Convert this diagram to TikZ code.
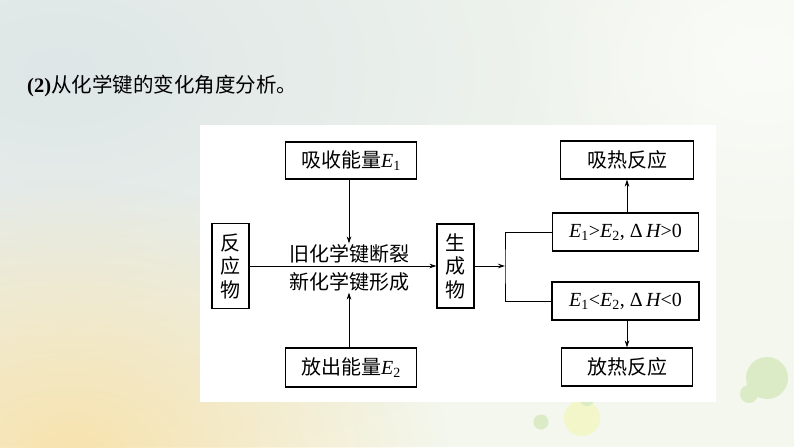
\documentclass[tikz,border=0pt]{standalone}
\usepackage{fontspec}
\setmainfont{Liberation Serif}
\newfontfamily\cjk{Noto Sans CJK SC}
\usetikzlibrary{arrows.meta,fadings}
\definecolor{bgbase}{RGB}{243,247,238}
\definecolor{tlgray}{RGB}{222,230,231}
\definecolor{blyellow}{RGB}{247,226,172}
\definecolor{dotgreen}{RGB}{218,235,198}
\definecolor{dotyellow}{RGB}{243,246,200}
\tikzfading[name=softblob, inner color=transparent!0, outer color=transparent!100]
\tikzset{
  box/.style={draw, line width=1.1pt, inner sep=0pt, align=center,
    font=\cjk\fontsize{20}{23.5}\selectfont},
  conn/.style={line width=0.8pt},
  arr/.style={conn, -{Stealth[length=7pt,width=4.5pt]}},
  lbl/.style={inner sep=1pt, font=\cjk\fontsize{20}{24}\selectfont},
  eqlbl/.style={font=\fontsize{20}{24}\selectfont},
}
\newcommand{\EE}[1]{{\itshape E}\textsubscript{#1}}
\begin{document}
\begin{tikzpicture}[x=1pt,y=-1pt]
\useasboundingbox (0,0) rectangle (794,447);
% background
\fill[bgbase] (0,0) rectangle (794,447);
\begin{scope}
\clip (0,0) rectangle (794,447);
\fill[tlgray, path fading=softblob] (60,70) ellipse [x radius=640pt, y radius=400pt];
\fill[blyellow, path fading=softblob] (70,460) ellipse [x radius=380pt, y radius=280pt];
\fill[white, path fading=softblob, opacity=0.6] (760,60) ellipse [x radius=260pt, y radius=200pt];
\end{scope}
\fill[dotgreen] (767,378) circle (21pt);
\fill[dotgreen] (749,394) circle (9pt);
\fill[dotyellow] (582,418) circle (18pt);
\fill[dotgreen] (541,422) circle (7.5pt);
\fill[dotgreen] (587,399) circle (7pt);
% panel
\fill[white] (200,125) rectangle (716,402);
% title
\node[anchor=west, inner sep=0pt, font=\fontsize{20.5}{24}\selectfont] (title) at (27,86)
  {\textbf{(2)}{\cjk 从化学键的变化角度分析。}};
% nodes
\node[box, minimum width=131pt, minimum height=37pt] (e1box) at (351,160.5)
  {吸收能量{\rmfamily\EE{1}}};
\node[box, minimum width=131pt, minimum height=39pt] (e2box) at (351,367.5)
  {放出能量{\rmfamily\EE{2}}};
\node[box, minimum width=37pt, minimum height=85pt] (react) at (230.5,266) {反\\应\\物};
\node[box, minimum width=37pt, minimum height=84pt] (prod) at (455.5,266) {生\\成\\物};
\node[lbl] (oldtxt) at (349,254) {旧化学键断裂};
\node[lbl] (newtxt) at (349,282) {新化学键形成};
\node[box, eqlbl, minimum width=146pt, minimum height=38pt] (gt) at (625.5,232)
  {\EE{1}>\EE{2}, Δ\,{\itshape H}>0};
\node[box, eqlbl, minimum width=147pt, minimum height=38pt] (lt) at (625.5,301)
  {\EE{1}<\EE{2}, Δ\,{\itshape H}<0};
\node[box, minimum width=133pt, minimum height=38pt] (endo) at (627,160) {吸热反应};
\node[box, minimum width=131pt, minimum height=38pt] (exo) at (627,367) {放热反应};
\coordinate (br) at (505,266);
% connectors
\draw[arr] (react) -- (prod);
\draw[arr] (e1box.south -| oldtxt.north) -- (oldtxt.north);
\draw[arr] (e2box.north -| newtxt.south) -- (newtxt.south);
\draw[arr] (prod) -- (br);
\draw[conn] (gt.west) -| (br) |- (lt.west);
\draw[arr] (gt.north -| endo.south) -- (endo.south);
\draw[arr] (lt.south -| exo.north) -- (exo.north);
\end{tikzpicture}
\end{document}
